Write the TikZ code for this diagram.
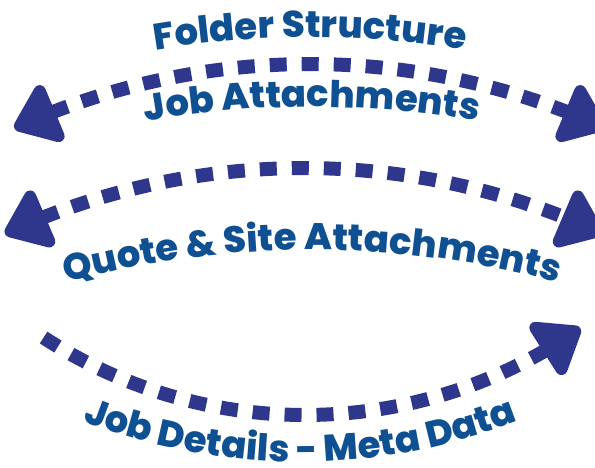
\documentclass[tikz,border=0pt]{standalone}
\usepackage{fontspec}
\setmainfont{Poppins}[BoldFont={Poppins ExtraBold}]
\usepackage{tikz}
\usetikzlibrary{arrows.meta,bending,decorations.text}
\definecolor{arrowblue}{HTML}{2E378C}
\definecolor{textblue}{HTML}{0F5093}

\begin{document}
\begin{tikzpicture}[
  x=1pt, y=1pt,
  >={Triangle[length=48pt,width=70pt,round]},
  flow/.style={draw=arrowblue, line width=14pt, dash pattern=on 17pt off 15pt}, % <-- dotted band
  curved label/.style={decorate, decoration={text along path, text align=center,
      text color=textblue, text={|\bfseries\fontsize{37}{40}\selectfont|#1}}}
]
\useasboundingbox (0,0) rectangle (595,468);

% arc centres
\coordinate (topC) at (310,-309);
\coordinate (midC) at (304,-413);
\coordinate (lowC) at (305,533);

\draw[flow, <->] ([shift={(114.5:713)}]topC) arc[start angle=114.5, end angle=65.5, radius=713];
\draw[flow, <->] ([shift={(114.8:713)}]midC) arc[start angle=114.8, end angle=65.2, radius=713];
\draw[flow, ->] ([shift={(237:480)}]lowC) arc[start angle=237, end angle=305, radius=480];

% labels on arcs
\coordinate (folderC) at (310,-519.5);
\coordinate (jobC) at (312,-620);
\coordinate (quoteC) at (312,-726);
\coordinate (metaC) at (300,604);

\path[curved label={Folder Structure}] ([shift={(105:950)}]folderC) arc[start angle=105, end angle=75, radius=950];
\path[curved label={Job Attachments}] ([shift={(105:981)}]jobC) arc[start angle=105, end angle=75, radius=981];
\path[curved label={Quote {\&} Site Attachments}] ([shift={(110:944)}]quoteC) arc[start angle=110, end angle=70, radius=944];
\path[curved label={Job Details - Meta Data}] ([shift={(235:598)}]metaC) arc[start angle=235, end angle=305, radius=598];
\end{tikzpicture}
\end{document}
